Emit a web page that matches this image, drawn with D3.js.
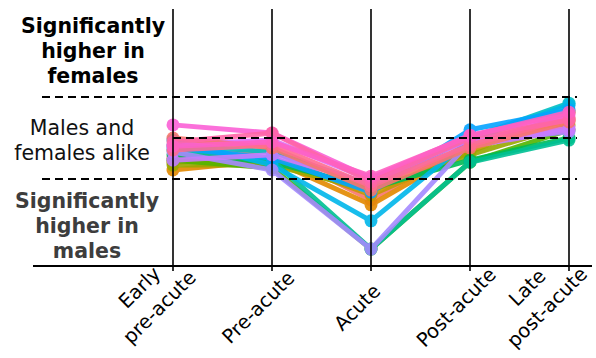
<!DOCTYPE html>
<html><head><meta charset="utf-8">
<script src="https://cdn.jsdelivr.net/npm/d3@7"></script>
<style>html,body{margin:0;padding:0;background:#fff;}svg{display:block;font-family:"DejaVu Sans",sans-serif;}</style>
</head><body>
<svg id="c" width="596" height="358"></svg>
<script>
const categories = ["Early\npre-acute", "Pre-acute", "Acute", "Post-acute", "Late\npost-acute"];
const thresholds = [1, 0, -1];
const seriesColors = ["#F8766D","#E38900","#C49A00","#99A800","#53B400","#00BC56","#00C094","#00BFC4","#00B6EB","#06A4FF","#A58AFF","#DF70F8","#C77CFF","#F8766D","#FF6C91","#FB61D7","#FF66A8","#FF61C3"];
// values: sex-difference score per stage (+1 / -1 = significance thresholds)
const s01 = [-0.49, -0.29, -1.51, -0.10, 0.49];
const s02 = [-0.78, -0.54, -1.63, -0.24, 0.44];
const s03 = [-0.59, -0.49, -1.39, -0.34, 0.63];
const s04 = [-0.66, -0.66, -1.27, -0.41, 0.32];
const s05 = [-0.54, -0.73, -2.71, -0.59, 0.20];
const s06 = [-0.41, -0.59, -1.22, -0.54, 0.00];
const s07 = [-0.29, -0.54, -2.71, -0.59, -0.05];
const s08 = [-0.17, -0.34, -1.15, 0.00, 0.85];
const s09 = [-0.05, -0.66, -2.02, -0.05, 0.80];
const s10 = [-0.24, -0.49, -1.32, 0.20, 0.68];
const s11 = [-0.34, -0.78, -2.71, -0.10, 0.15];
const s12 = [-0.17, -0.05, -1.02, -0.05, 0.24];
const s13 = [-0.54, -0.41, -1.12, -0.20, 0.20];
const s14 = [0.00, -0.24, -1.27, -0.24, 0.39];
const s15 = [-0.29, -0.17, -1.17, -0.17, 0.49];
const s16 = [0.32, 0.12, -0.98, 0.07, 0.56];
const s17 = [-0.10, 0.12, -1.07, 0.00, 0.44];
const s18 = [-0.20, -0.10, -0.93, 0.05, 0.63];
const seriesValues = [s01,s02,s03,s04,s05,s06,s07,s08,s09,s10,s11,s12,s13,s14,s15,s16,s17,s18];

const svg = d3.select("#c");
const x = d3.scalePoint().domain(categories).range([173, 569]);
const y = d3.scaleLinear().domain([-1, 1]).range([179, 97]);

// series lines + points
const line = d3.line().x((d,i)=>x(categories[i])).y(d=>y(d));
seriesValues.forEach((vals, k) => {
  const g = svg.append("g").attr("opacity", 0.9);
  g.append("path").attr("d", line(vals)).attr("fill","none")
    .attr("stroke", seriesColors[k]).attr("stroke-width", 5).attr("stroke-linejoin","round");
  g.selectAll("circle").data(vals).join("circle")
    .attr("cx",(d,i)=>x(categories[i])).attr("cy",d=>y(d)).attr("r",6.5)
    .attr("fill", seriesColors[k]);
});

// vertical stage lines
svg.append("g").selectAll("line").data(categories).join("line")
  .attr("x1",d=>x(d)).attr("x2",d=>x(d)).attr("y1",9).attr("y2",271)
  .attr("stroke","#000").attr("stroke-width",1.6);

// dashed threshold lines
svg.append("g").selectAll("line").data(thresholds).join("line")
  .attr("x1",d=>d===0?173:42).attr("x2",577).attr("y1",d=>y(d)).attr("y2",d=>y(d))
  .attr("stroke","#000").attr("stroke-width",1.8).attr("stroke-dasharray","8,5");

// bottom axis line
svg.append("line").attr("x1",33).attr("x2",592).attr("y1",266).attr("y2",266)
  .attr("stroke","#000").attr("stroke-width",2);

// left zone labels
function block(lines, cx, baselines, weight, color){
  const t = svg.append("text").attr("text-anchor","middle").attr("font-size",20.5)
    .attr("font-weight",weight).attr("fill",color);
  lines.forEach((s,i)=>t.append("tspan").attr("x",cx).attr("y",baselines[i]).text(s));
}
block(["Significantly","higher in","females"], 93, [33,58,83], "bold", "#000");
block(["Males and","females alike"], 82, [135,160], "normal", "#111");
block(["Significantly","higher in","males"], 87, [208,233,258], "bold", "#3d3d3d");

// rotated x labels: last line centred on its baseline midpoint, earlier lines stacked above
const svgLeft = svg.node().getBoundingClientRect().left;
categories.forEach(c => {
  const parts = c.split("\n");
  const n = parts.length;
  const t = svg.append("text").attr("text-anchor","middle").attr("font-size",19.5).attr("fill","#000");
  parts.forEach((s,i)=>t.append("tspan").attr("x",0).attr("y", (i-(n-1))*28).text(s));
  let ax = x(c) - 9;
  t.attr("transform", `translate(${ax},312) rotate(-45)`);
  const right = t.node().getBoundingClientRect().right - svgLeft;
  if (right > 592) { ax -= (right - 592); t.attr("transform", `translate(${ax},312) rotate(-45)`); }
});
</script>
</body></html>
